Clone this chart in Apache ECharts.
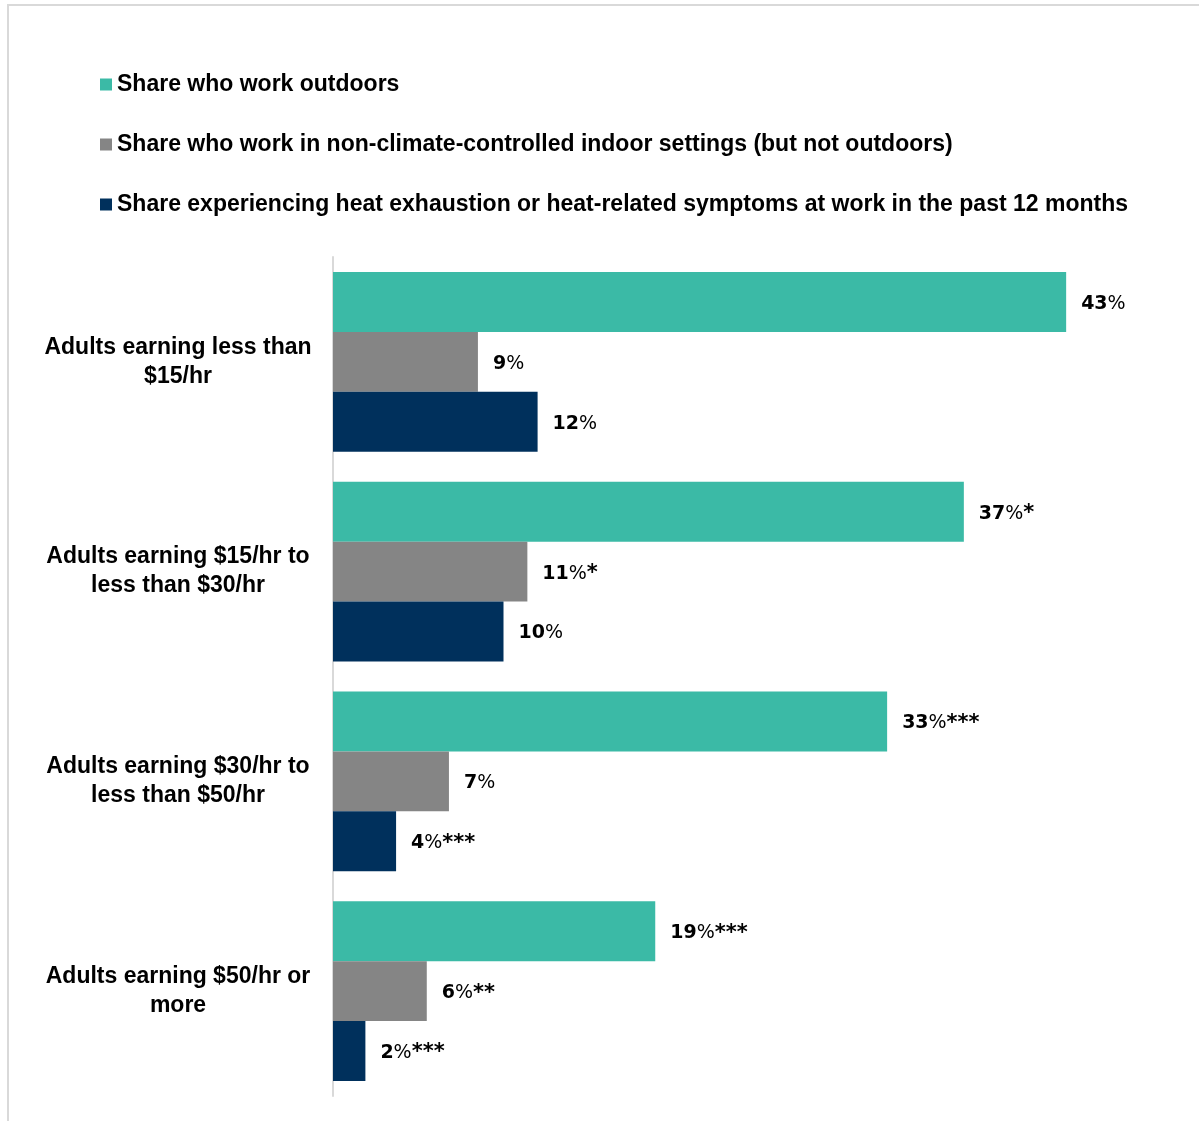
<!DOCTYPE html>
<html>
<head>
<meta charset="utf-8">
<script src="https://cdn.jsdelivr.net/npm/echarts@6/dist/echarts.min.js"></script>
<style>
html,body{margin:0;padding:0;background:#fff;}
#c{width:1199px;height:1121px;}
</style>
</head>
<body>
<div id="c"></div>
<script>
const categories = [
  "Adults earning less than\n$15/hr",
  "Adults earning $15/hr to\nless than $30/hr",
  "Adults earning $30/hr to\nless than $50/hr",
  "Adults earning $50/hr or\nmore"
];
const seriesNames = [
  "Share who work outdoors",
  "Share who work in non-climate-controlled indoor settings (but not outdoors)",
  "Share experiencing heat exhaustion or heat-related symptoms at work in the past 12 months"
];
const outdoors = [43.0, 37.0, 32.5, 18.9];
const indoor = [8.5, 11.4, 6.8, 5.5];
const symptoms = [12.0, 10.0, 3.7, 1.9];
const outdoorsLabels = ["43%", "37%*", "33%***", "19%***"];
const indoorLabels = ["9%", "11%*", "7%", "6%**"];
const symptomsLabels = ["12%", "10%", "4%***", "2%***"];
const colors = ["#3BBAA6", "#858585", "#00305C"];

const FONT = "'Liberation Sans', Arial, sans-serif";
const LFONT = "'DejaVu Sans', Verdana, sans-serif";
const chart = echarts.init(document.getElementById('c'), null, {renderer: 'canvas'});

function richLabel(s) {
  const m = s.match(/^(\d+)%(\**)$/);
  if (!m) return s;
  return '{b|' + m[1] + '}{p|%}' + (m[2] ? '{a|' + m[2] + '}' : '');
}

function mk(name, data, labels, color) {
  return {
    name: name,
    type: 'bar',
    data: data,
    barGap: '0%',
    barCategoryGap: '14.3%',
    itemStyle: {color: color},
    label: {
      show: true,
      position: 'right',
      distance: 15,
      color: '#000',
      padding: [4, 0, 0, 0],
      formatter: p => richLabel(labels[p.dataIndex]),
      rich: {
        b: {fontFamily: LFONT, fontWeight: 'bold', fontSize: 19, color: '#000'},
        p: {fontFamily: LFONT, fontWeight: 'normal', fontSize: 19, color: '#000'},
        a: {fontFamily: LFONT, fontWeight: 'bold', fontSize: 21, color: '#000'}
      }
    },
    emphasis: {disabled: true},
    animation: false
  };
}

chart.setOption({
  animation: false,
  graphic: [{
    type: 'rect',
    shape: {x: 8, y: 5, width: 1300, height: 1300},
    style: {fill: 'none', stroke: '#d9d9d9', lineWidth: 2},
    silent: true
  }],
  legend: {
    orient: 'vertical',
    left: 95,
    top: 68,
    itemWidth: 12,
    itemHeight: 12,
    itemGap: 37,
    icon: 'rect',
    textStyle: {fontFamily: FONT, fontWeight: 'bold', fontSize: 23, color: '#000'},
    data: seriesNames
  },
  grid: {left: 333, right: 13.5, top: 257, bottom: 25, containLabel: false},
  xAxis: {
    type: 'value', min: 0, max: 50, show: false
  },
  yAxis: {
    type: 'category',
    inverse: true,
    data: categories,
    axisLine: {show: true, lineStyle: {color: '#d9d9d9', width: 2}},
    axisTick: {show: false},
    axisLabel: {
      fontFamily: FONT, fontWeight: 'bold', fontSize: 23, color: '#000',
      align: 'center', margin: 155, lineHeight: 29, padding: [2, 0, 0, 0]
    }
  },
  series: [
    mk(seriesNames[0], outdoors, outdoorsLabels, colors[0]),
    mk(seriesNames[1], indoor, indoorLabels, colors[1]),
    mk(seriesNames[2], symptoms, symptomsLabels, colors[2])
  ]
});
</script>
</body>
</html>
